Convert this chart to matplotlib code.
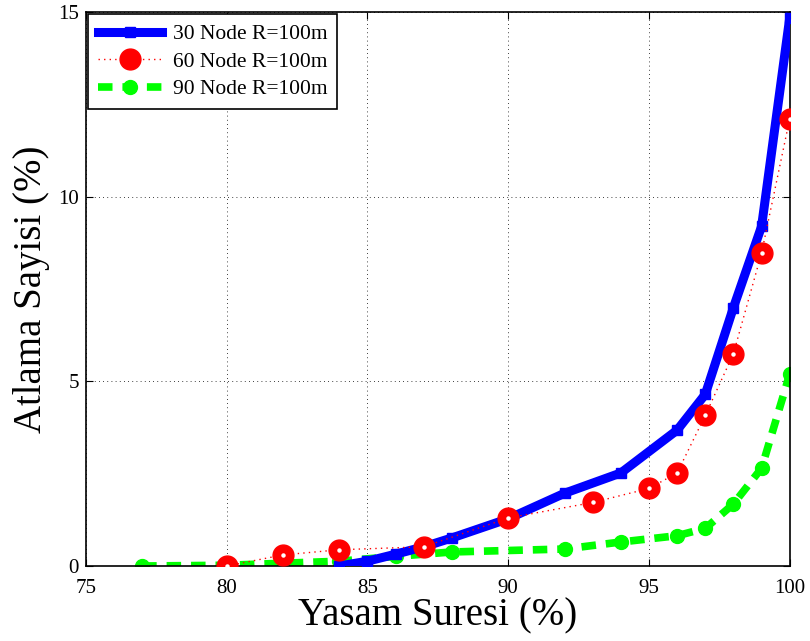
import matplotlib
matplotlib.use("Agg")
import matplotlib.pyplot as plt

# Veriler
x30 = [84, 85, 86, 87, 88, 90, 92, 94, 96, 97, 98, 99, 100]
y30 = [0.0, 0.13, 0.32, 0.52, 0.76, 1.28, 1.97, 2.52, 3.68, 4.65, 7.0, 9.2, 14.85]

x60 = [80, 82, 84, 87, 90, 93, 95, 96, 97, 98, 99, 100]
y60 = [0.0, 0.3, 0.44, 0.52, 1.3, 1.72, 2.1, 2.52, 4.08, 5.75, 8.48, 12.12]

x90 = [77, 80, 84, 86, 88, 92, 94, 96, 97, 98, 99, 100]
y90 = [0.0, 0.02, 0.13, 0.26, 0.38, 0.46, 0.65, 0.82, 1.02, 1.68, 2.65, 5.2]

labels = ["30 Node R=100m", "60 Node R=100m", "90 Node R=100m"]

plt.rcParams["font.family"] = ["Liberation Serif", "DejaVu Serif"]

fig = plt.figure(figsize=(8.1, 6.41), dpi=100)
ax = fig.add_axes([0.106, 0.117, 0.869, 0.864])

ax.plot(x30, y30, color="#0000ff", linewidth=6.5, marker="s", markersize=7,
        label=labels[0], zorder=3)
ax.plot(x60, y60, color="#ff0000", linewidth=1, linestyle=(0, (1, 3)),
        marker="o", markersize=15, markerfacecolor="#ff0000",
        markeredgecolor="#ff0000", label=labels[1], zorder=4)
# beyaz merkez noktalari
ax.plot(x60, y60, linestyle="none", marker="o", markersize=2.2,
        color="white", zorder=5)
ax.plot(x90, y90, color="#00ff00", linewidth=5.5, linestyle=(0, (1.9, 1.3)),
        marker="o", markersize=10, label=labels[2], zorder=2)

ax.set_xlim(75, 100)
ax.set_ylim(0, 15)
ax.set_xticks([75, 80, 85, 90, 95, 100])
ax.set_yticks([0, 5, 10, 15])
ax.tick_params(direction="in", top=True, right=True, labelsize=15, length=5)
ax.tick_params(axis="x", pad=9)
ax.tick_params(axis="y", pad=5)
ax.grid(True, color="black", linestyle=(0, (1, 4)), linewidth=0.6)
for s in ax.spines.values():
    s.set_linewidth(1.2)

ax.set_xlabel("Yasam Suresi (%)", fontsize=28, labelpad=0)
ax.set_ylabel("Atlama Sayisi (%)", fontsize=28, labelpad=6)

leg = ax.legend(loc="upper left", fontsize=15.5, fancybox=False, framealpha=1,
                edgecolor="black", borderaxespad=0.1, handlelength=3.0,
                labelspacing=0.35, borderpad=0.45, handletextpad=0.5)
leg.get_frame().set_linewidth(1.2)

fig.savefig("out.png", dpi=100)
